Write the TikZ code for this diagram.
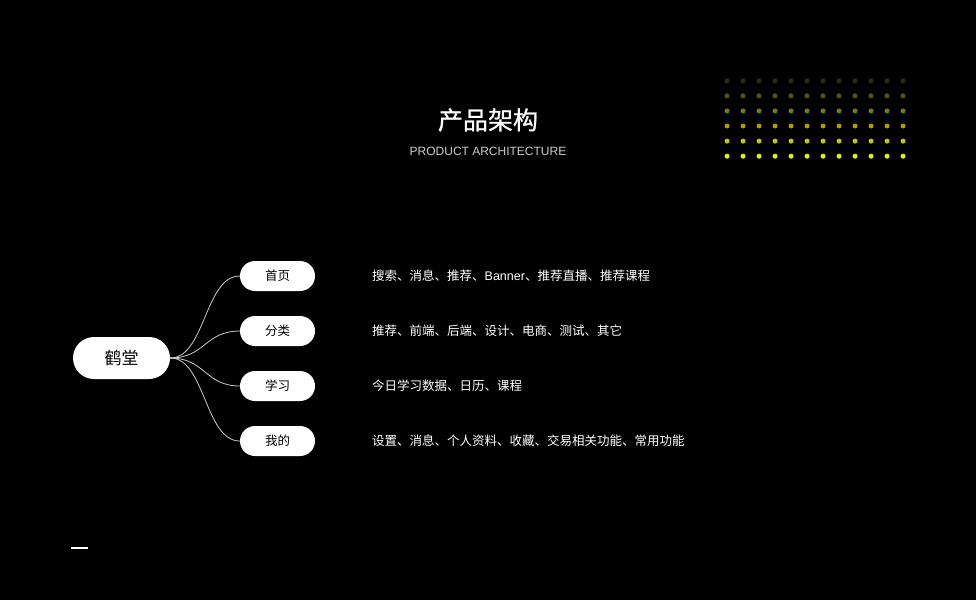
\documentclass[tikz,border=0pt]{standalone}
\usepackage{fontspec}
\setmainfont{Noto Sans CJK SC}
\newfontfamily\titlefont[FakeBold=0.8]{Noto Sans CJK SC}
\newfontfamily\latinsans{Liberation Sans}
\begin{document}
\begin{tikzpicture}[x=1pt,y=-1pt,
  pill/.style={draw=none,fill=white,rounded corners=15pt,minimum width=75pt,minimum height=30pt,inner sep=0pt,font=\fontsize{12.5}{14}\selectfont,text=black},
  root/.style={fill=white,rounded corners=21pt,minimum width=97pt,minimum height=42pt,inner sep=0pt,font=\fontsize{17}{20}\selectfont,text=black},
  desc/.style={anchor=west,inner sep=0pt,text=white,font=\fontsize{12.5}{14}\selectfont},
  link/.style={draw=white!80!black,line width=0.8pt}]
\fill[black] (0,0) rectangle (976,600);
\useasboundingbox (0,0) rectangle (976,600);
% dots
\foreach \r/\op in {0/0.2,1/0.36,2/0.52,3/0.68,4/0.84,5/1.0}{
  \foreach \c in {0,...,11}{
    \fill[yellow!94!green,opacity=\op] (727+16*\c,80.7+15.1*\r) circle (2.5);
  }
}
\node[text=white,font=\titlefont\fontsize{25}{28}\selectfont] (title) at (488,120) {产品架构};
\node[text=white!80!black,font=\latinsans\fontsize{12}{14}\selectfont] (sub) at (488,151) {PRODUCT ARCHITECTURE};
\node[root] (c) at (121.5,358) {鹤堂};
\node[pill] (a1) at (277.5,276) {首页};
\node[pill] (a2) at (277.5,331) {分类};
\node[pill] (a3) at (277.5,386) {学习};
\node[pill] (a4) at (277.5,441) {我的};
\foreach \n in {a1,a2,a3,a4}{
  \draw[link] (c.east) .. controls +(35,0) and +(-35,0) .. (\n.west);
}
\node[desc] (d1) at (372,276) {搜索、消息、推荐、{\latinsans Banner}、推荐直播、推荐课程};
\node[desc] (d2) at (372,331) {推荐、前端、后端、设计、电商、测试、其它};
\node[desc] (d3) at (372,386) {今日学习数据、日历、课程};
\node[desc] (d4) at (372,441) {设置、消息、个人资料、收藏、交易相关功能、常用功能};
\draw[white,line width=1.8pt] (71,548) -- (88,548);
\end{tikzpicture}
\end{document}
